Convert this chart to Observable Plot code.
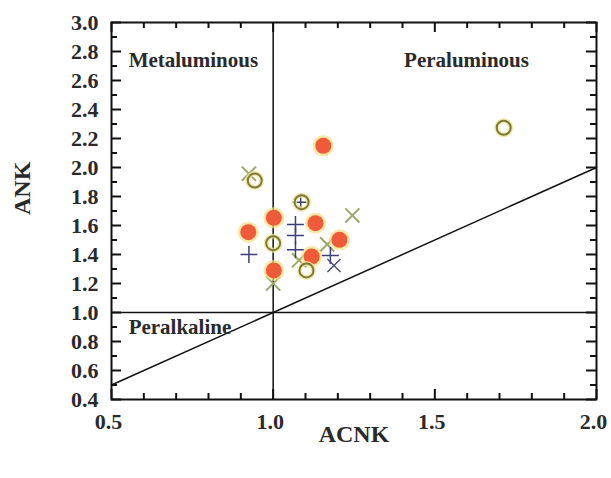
<!DOCTYPE html>
<html><head><meta charset="utf-8">
<script src="https://cdn.jsdelivr.net/npm/d3@7"></script>
<script src="https://cdn.jsdelivr.net/npm/@observablehq/plot@0.6"></script>
<style>body{margin:0;background:#fff}</style>
</head><body><div id="chart"></div>
<script>
// Filled red circles
const filledACNK = [1.155, 1.002, 0.923, 1.131, 1.205, 1.119, 1.002];
const filledANK  = [2.150, 1.653, 1.554, 1.616, 1.501, 1.386, 1.290];
// Open olive circles
const openACNK = [1.713, 0.943, 1.088, 1.000, 1.103];
const openANK  = [2.274, 1.910, 1.761, 1.478, 1.290];
// Light olive crosses (x)
const crossACNK = [0.925, 1.245, 1.167, 1.080, 1.000];
const crossANK  = [1.957, 1.669, 1.470, 1.360, 1.200];
// Dark pluses (+)
const plusACNK = [0.925, 1.069, 1.069, 1.069, 1.085, 1.177];
const plusANK  = [1.400, 1.607, 1.531, 1.432, 1.760, 1.393];
// Dark crosses (x)
const darkACNK = [1.188];
const darkANK  = [1.324];

const xTickLabels = [0.5, 1.0, 1.5, 2.0];
const yTickLabels = [0.4,0.6,0.8,1.0,1.2,1.4,1.6,1.8,2.0,2.2,2.4,2.6,2.8,3.0];
const xMinor = d3.range(5, 21).map(d => d / 10).filter(d => !xTickLabels.some(t => Math.abs(t - d) < 1e-9));
const yMinor = d3.range(5, 30, 2).map(d => d / 10);

const leftLabels = [
  {x: 0.553, y: 2.738, text: "Metaluminous"},
  {x: 0.553, y: 0.897, text: "Peralkaline"}
];
const centerLabels = [
  {x: 1.598, y: 2.738, text: "Peraluminous"}
];
const diagonal = [{x: 0.5, y: 0.5}, {x: 2.0, y: 2.0}];

const pts = (xs, ys) => xs.map((x, i) => ({x, y: ys[i]}));
const filled = pts(filledACNK, filledANK);
const open = pts(openACNK, openANK);
const cross = pts(crossACNK, crossANK);
const plus = pts(plusACNK, plusANK);
const dark = pts(darkACNK, darkANK);

const W = 611, H = 478, mL = 111, mR = 15, mT = 22, mB = 79;
const iw = W - mL - mR, ih = H - mT - mB;
const xDom = [0.5, 2.0], yDom = [0.4, 3.0];

const font = "'Liberation Serif', 'Times New Roman', serif";
const tk = {stroke: "#111", strokeWidth: 2};

const chart = Plot.plot({
  width: W, height: H,
  marginLeft: mL, marginRight: mR, marginTop: mT, marginBottom: mB,
  style: {fontFamily: font, fontSize: "22px", fontWeight: "bold", background: "#fff"},
  x: {domain: xDom},
  y: {domain: yDom},
  marks: [
    Plot.axisX({ticks: xTickLabels, tickSize: 0, tickPadding: 14, tickFormat: d3.format(".1f"), label: null, dx: -3, fontSize: 22, fontWeight: "bold", fontFamily: font, fill: "#2a2a2a"}),
    Plot.axisY({ticks: yTickLabels, tickSize: 0, tickPadding: 13, tickFormat: d3.format(".1f"), label: null, fontSize: 22, fontWeight: "bold", fontFamily: font, fill: "#2a2a2a"}),
    // inward ticks on all four sides (tick marks inset to short segments)
    Plot.tickY(yTickLabels, {y: d => d, insetRight: iw - 10, ...tk}),
    Plot.tickY(yMinor, {y: d => d, insetRight: iw - 6, ...tk}),
    Plot.tickY(yTickLabels, {y: d => d, insetLeft: iw - 10, ...tk}),
    Plot.tickY(yMinor, {y: d => d, insetLeft: iw - 6, ...tk}),
    Plot.tickX(xTickLabels, {x: d => d, insetTop: ih - 10, ...tk}),
    Plot.tickX(xMinor, {x: d => d, insetTop: ih - 6, ...tk}),
    Plot.tickX(xTickLabels, {x: d => d, insetBottom: ih - 10, ...tk}),
    Plot.tickX(xMinor, {x: d => d, insetBottom: ih - 6, ...tk}),
    // reference lines
    Plot.ruleX([1.0], {stroke: "#111", strokeWidth: 1.5}),
    Plot.ruleY([1.0], {stroke: "#111", strokeWidth: 1.5}),
    Plot.line(diagonal, {x: "x", y: "y", stroke: "#111", strokeWidth: 1.5}),
    Plot.frame({stroke: "#111", strokeWidth: 2}),
    // region labels
    Plot.text(leftLabels, {x: "x", y: "y", text: "text", textAnchor: "start", fontSize: 21, fill: "#2a2a2a"}),
    Plot.text(centerLabels, {x: "x", y: "y", text: "text", textAnchor: "middle", fontSize: 21, fill: "#2a2a2a"}),
    // axis titles
    Plot.text(["ANK"], {frameAnchor: "left", dx: -89, dy: 4, rotate: -90, fontSize: 24, fill: "#2a2a2a"}),
    Plot.text(["ACNK"], {frameAnchor: "bottom", dy: 42, fontSize: 24, fill: "#2a2a2a"}),
    // points
    Plot.dot(cross, {x: "x", y: "y", symbol: "times", r: 6.5, stroke: "#9ca86a", strokeWidth: 2}),
    Plot.dot(plus, {x: "x", y: "y", symbol: "plus", r: 5.5, stroke: "#3d4075", strokeWidth: 1.5}),
    Plot.dot(dark, {x: "x", y: "y", symbol: "times", r: 6, stroke: "#4a4f70", strokeWidth: 1.5}),
    Plot.dot(filled, {x: "x", y: "y", r: 10.5, fill: "#f5de7c", fillOpacity: 0.7, stroke: "none"}),
    Plot.dot(filled, {x: "x", y: "y", r: 8, fill: "#ee5a3a", stroke: "none"}),
    Plot.dot(open, {x: "x", y: "y", r: 7, fill: "none", stroke: "#eee59a", strokeWidth: 5, strokeOpacity: 0.8}),
    Plot.dot(open, {x: "x", y: "y", r: 7, fill: "none", stroke: "#7d7a3a", strokeWidth: 2})
  ]
});
document.getElementById("chart").appendChild(chart);
</script>
</body></html>
